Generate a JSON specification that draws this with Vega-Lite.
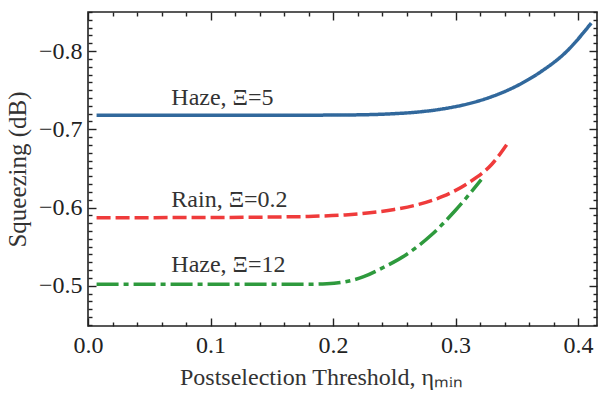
{
  "$schema": "https://vega.github.io/schema/vega-lite/v6.json",
  "width": 509,
  "height": 314,
  "autosize": {"type": "none"},
  "padding": {"left": 88, "top": 12, "right": 1, "bottom": 68},
  "background": "white",
  "config": {
    "font": "Liberation Serif",
    "view": {"stroke": "#222", "strokeWidth": 1.6},
    "axis": {
      "domain": false,
      "grid": false,
      "labelFont": "Liberation Serif",
      "titleFont": "Liberation Serif",
      "labelFontSize": 24,
      "titleFontSize": 25,
      "labelColor": "#222",
      "titleColor": "#333",
      "titleFontWeight": "normal",
      "tickColor": "#222",
      "tickWidth": 1.4
    }
  },
  "datasets": {
    "curves": [
      {"series": "Haze5", "x": 0.007, "y": -0.718},
      {"series": "Haze5", "x": 0.15, "y": -0.718},
      {"series": "Haze5", "x": 0.20, "y": -0.7182},
      {"series": "Haze5", "x": 0.23, "y": -0.7188},
      {"series": "Haze5", "x": 0.25, "y": -0.7200},
      {"series": "Haze5", "x": 0.27, "y": -0.7222},
      {"series": "Haze5", "x": 0.29, "y": -0.7262},
      {"series": "Haze5", "x": 0.31, "y": -0.7325},
      {"series": "Haze5", "x": 0.33, "y": -0.7420},
      {"series": "Haze5", "x": 0.35, "y": -0.7555},
      {"series": "Haze5", "x": 0.37, "y": -0.7740},
      {"series": "Haze5", "x": 0.39, "y": -0.7985},
      {"series": "Haze5", "x": 0.4108, "y": -0.8358},
      {"series": "Rain", "x": 0.007, "y": -0.587},
      {"series": "Rain", "x": 0.10, "y": -0.5872},
      {"series": "Rain", "x": 0.15, "y": -0.5878},
      {"series": "Rain", "x": 0.18, "y": -0.5886},
      {"series": "Rain", "x": 0.21, "y": -0.5905},
      {"series": "Rain", "x": 0.23, "y": -0.5932},
      {"series": "Rain", "x": 0.25, "y": -0.5975},
      {"series": "Rain", "x": 0.27, "y": -0.6040},
      {"series": "Rain", "x": 0.29, "y": -0.6145},
      {"series": "Rain", "x": 0.31, "y": -0.6310},
      {"series": "Rain", "x": 0.33, "y": -0.6560},
      {"series": "Rain", "x": 0.342, "y": -0.6810},
      {"series": "Haze12", "x": 0.007, "y": -0.502},
      {"series": "Haze12", "x": 0.18, "y": -0.502},
      {"series": "Haze12", "x": 0.195, "y": -0.5025},
      {"series": "Haze12", "x": 0.21, "y": -0.5050},
      {"series": "Haze12", "x": 0.225, "y": -0.5115},
      {"series": "Haze12", "x": 0.24, "y": -0.5225},
      {"series": "Haze12", "x": 0.26, "y": -0.5400},
      {"series": "Haze12", "x": 0.28, "y": -0.5645},
      {"series": "Haze12", "x": 0.30, "y": -0.5965},
      {"series": "Haze12", "x": 0.321, "y": -0.6356}
    ],
    "labels": [
      {"label": "Haze, Ξ=5", "x": 0.068, "y": -0.7395},
      {"label": "Rain, Ξ=0.2", "x": 0.068, "y": -0.609},
      {"label": "Haze, Ξ=12", "x": 0.068, "y": -0.526}
    ]
  },
  "layer": [
    {
      "data": {"name": "curves"},
      "mark": {"type": "line", "strokeWidth": 3.5, "strokeCap": "butt", "interpolate": "monotone", "clip": true},
      "encoding": {
        "x": {
          "field": "x",
          "type": "quantitative",
          "scale": {"domain": [0, 0.4155], "nice": false, "zero": false},
          "axis": {
            "orient": "bottom",
            "title": "Postselection Threshold, ηₘᵢₙ",
            "titleFontSize": 24,
            "values": [0, 0.02, 0.04, 0.06, 0.08, 0.1, 0.12, 0.14, 0.16, 0.18, 0.2, 0.22, 0.24, 0.26, 0.28, 0.3, 0.32, 0.34, 0.36, 0.38, 0.4],
            "labelExpr": "abs(datum.value*10 - round(datum.value*10)) < 0.001 ? format(datum.value, '.1f') : ''",
            "tickSize": {"condition": {"test": "abs(datum.value*10 - round(datum.value*10)) < 0.001", "value": -8}, "value": -4},
            "labelPadding": 15,
            "labelFlush": false,
            "labelOverlap": false,
            "titlePadding": 4,
            "titleX": 233
          }
        },
        "y": {
          "field": "y",
          "type": "quantitative",
          "scale": {"domain": [-0.85, -0.4485], "reverse": true, "nice": false, "zero": false},
          "axis": {
            "orient": "left",
            "title": "Squeezing (dB)",
            "values": [-0.85, -0.84, -0.83, -0.82, -0.81, -0.8, -0.79, -0.78, -0.77, -0.76, -0.75, -0.74, -0.73, -0.72, -0.71, -0.7, -0.69, -0.68, -0.67, -0.66, -0.65, -0.64, -0.63, -0.62, -0.61, -0.6, -0.59, -0.58, -0.57, -0.56, -0.55, -0.54, -0.53, -0.52, -0.51, -0.5, -0.49, -0.48, -0.47, -0.46, -0.45],
            "labelExpr": "abs(datum.value*10 - round(datum.value*10)) < 0.001 ? format(datum.value, '.1f') : ''",
            "tickSize": {"condition": {"test": "abs(datum.value*10 - round(datum.value*10)) < 0.001", "value": -8}, "value": -4},
            "labelPadding": 14,
            "labelOverlap": false,
            "titlePadding": 8
          }
        },
        "color": {
          "field": "series",
          "type": "nominal",
          "scale": {"domain": ["Haze5", "Rain", "Haze12"], "range": ["#31689c", "#ef3b3b", "#2e9a3d"]},
          "legend": null
        },
        "strokeDash": {
          "field": "series",
          "type": "nominal",
          "scale": {"domain": ["Haze5", "Rain", "Haze12"], "range": [[1, 0], [14, 5], [22, 5, 5, 5]]},
          "legend": null
        }
      }
    },
    {
      "data": {"name": "labels"},
      "mark": {"type": "text", "align": "left", "baseline": "middle", "fontSize": 24, "font": "Liberation Serif", "color": "#333"},
      "encoding": {
        "x": {
          "field": "x",
          "type": "quantitative",
          "axis": {
            "orient": "top",
            "title": null,
            "labels": false,
            "values": [0, 0.02, 0.04, 0.06, 0.08, 0.1, 0.12, 0.14, 0.16, 0.18, 0.2, 0.22, 0.24, 0.26, 0.28, 0.3, 0.32, 0.34, 0.36, 0.38, 0.4],
            "tickSize": {"condition": {"test": "abs(datum.value*10 - round(datum.value*10)) < 0.001", "value": -8}, "value": -4}
          }
        },
        "y": {
          "field": "y",
          "type": "quantitative",
          "axis": {
            "orient": "right",
            "title": null,
            "labels": false,
            "values": [-0.85, -0.84, -0.83, -0.82, -0.81, -0.8, -0.79, -0.78, -0.77, -0.76, -0.75, -0.74, -0.73, -0.72, -0.71, -0.7, -0.69, -0.68, -0.67, -0.66, -0.65, -0.64, -0.63, -0.62, -0.61, -0.6, -0.59, -0.58, -0.57, -0.56, -0.55, -0.54, -0.53, -0.52, -0.51, -0.5, -0.49, -0.48, -0.47, -0.46, -0.45],
            "tickSize": {"condition": {"test": "abs(datum.value*10 - round(datum.value*10)) < 0.001", "value": -8}, "value": -4}
          }
        },
        "text": {"field": "label", "type": "nominal"}
      }
    }
  ],
  "resolve": {"axis": {"x": "independent", "y": "independent"}}
}
